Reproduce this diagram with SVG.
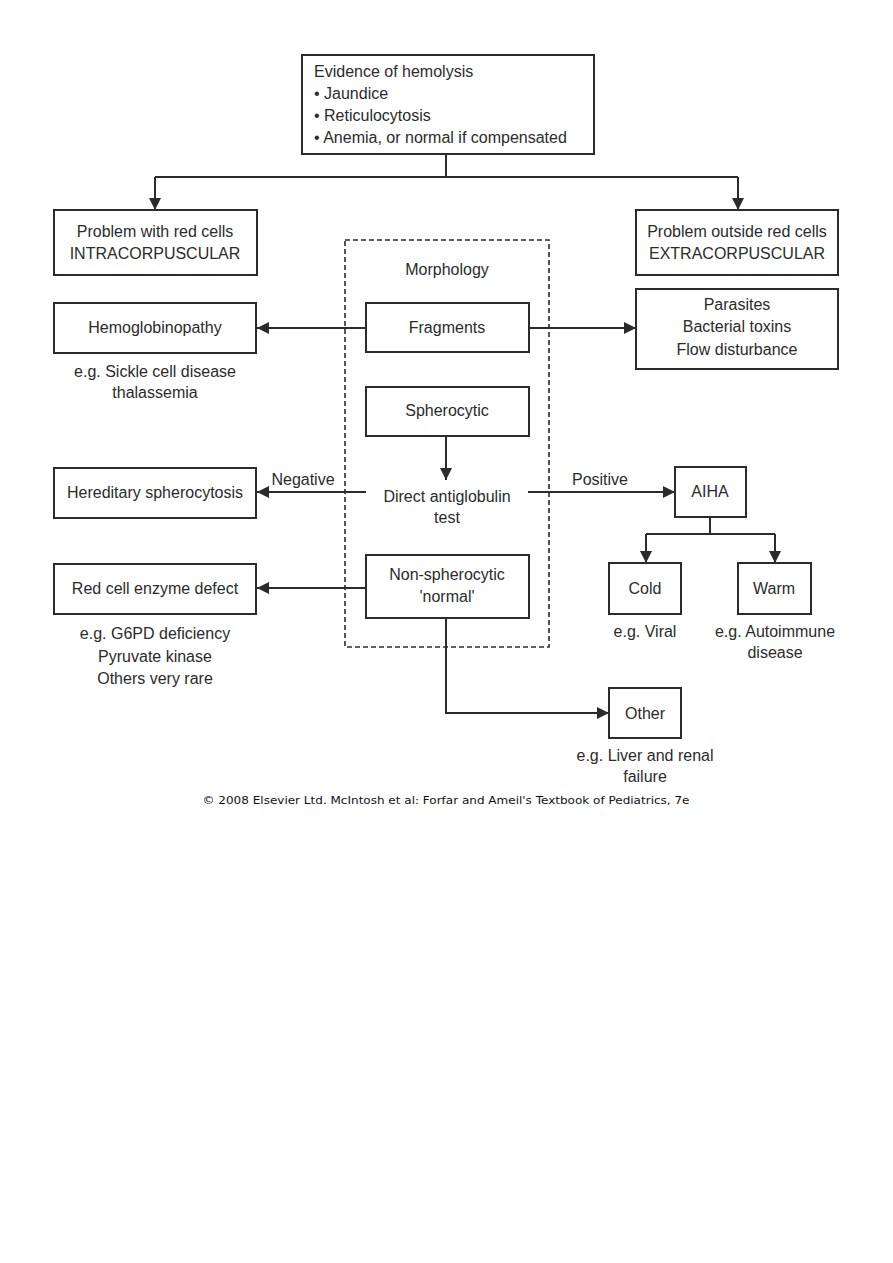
<svg xmlns="http://www.w3.org/2000/svg" width="893" height="1263" viewBox="0 0 893 1263">
<defs>
<marker id="ah" viewBox="0 0 10 10" refX="10" refY="5" markerWidth="12" markerHeight="12" markerUnits="userSpaceOnUse" orient="auto">
<path d="M0,0 L10,5 L0,10 z" fill="#2b2b2b"/>
</marker>
<style>
.box{fill:#fff;stroke:#2b2b2b;stroke-width:2}
.dash{fill:none;stroke:#2b2b2b;stroke-width:1.6;stroke-dasharray:5,3}
.ln{fill:none;stroke:#2b2b2b;stroke-width:2}
.arr{fill:none;stroke:#2b2b2b;stroke-width:2;marker-end:url(#ah)}
text{font-family:"Liberation Sans",Arial,sans-serif;font-size:16px;fill:#2b2b2b}
.c{text-anchor:middle}
.cr{font-family:"DejaVu Sans",Verdana,sans-serif;font-size:10.5px;fill:#111}
</style>
</defs>
<rect width="893" height="1263" fill="#fff"/>
<g id="connectors">
<path class="ln" d="M446,154 V177 M155,177 H738"/>
<path class="arr" d="M155,177 V210"/>
<path class="arr" d="M738,177 V210"/>
<path class="arr" d="M366,328 H257"/>
<path class="arr" d="M529,328 H636"/>
<path class="arr" d="M446,436 V480"/>
<path class="arr" d="M366,492 H257"/>
<path class="arr" d="M528,492 H675"/>
<path class="arr" d="M366,588 H257"/>
<path class="ln" d="M710,517 V534 M646,534 H775"/>
<path class="arr" d="M646,534 V563"/>
<path class="arr" d="M775,534 V563"/>
<path class="arr" d="M446,618 V713 H609"/>
<text x="303" y="485" class="c">Negative</text>
<text x="600" y="485" class="c">Positive</text>
</g>
<g id="evidence">
<rect class="box" x="302" y="55" width="292" height="99"/>
<text x="314" y="77">Evidence of hemolysis</text>
<text x="314" y="99">• Jaundice</text>
<text x="314" y="121">• Reticulocytosis</text>
<text x="314" y="143">• Anemia, or normal if compensated</text>
</g>
<g id="intra">
<rect class="box" x="54" y="210" width="203" height="65"/>
<text x="155" y="237" class="c">Problem with red cells</text>
<text x="155" y="259" class="c">INTRACORPUSCULAR</text>
</g>
<g id="extra">
<rect class="box" x="636" y="210" width="202" height="65"/>
<text x="737" y="237" class="c">Problem outside red cells</text>
<text x="737" y="259" class="c">EXTRACORPUSCULAR</text>
</g>
<g id="morphology">
<rect class="dash" x="345" y="240" width="204" height="407"/>
<text x="447" y="275" class="c">Morphology</text>
</g>
<g id="fragments">
<rect class="box" x="366" y="303" width="163" height="49"/>
<text x="447" y="333" class="c">Fragments</text>
</g>
<g id="spherocytic">
<rect class="box" x="366" y="387" width="163" height="49"/>
<text x="447" y="416" class="c">Spherocytic</text>
</g>
<g id="dat">
<text x="447" y="502" class="c">Direct antiglobulin</text>
<text x="447" y="523" class="c">test</text>
</g>
<g id="nonspherocytic">
<rect class="box" x="366" y="555" width="163" height="63"/>
<text x="447" y="580" class="c">Non-spherocytic</text>
<text x="447" y="602" class="c">'normal'</text>
</g>
<g id="hemoglobinopathy">
<rect class="box" x="54" y="303" width="202" height="50"/>
<text x="155" y="333" class="c">Hemoglobinopathy</text>
<text x="155" y="377" class="c">e.g. Sickle cell disease</text>
<text x="155" y="398" class="c">thalassemia</text>
</g>
<g id="parasites">
<rect class="box" x="636" y="289" width="202" height="80"/>
<text x="737" y="310" class="c">Parasites</text>
<text x="737" y="332" class="c">Bacterial toxins</text>
<text x="737" y="355" class="c">Flow disturbance</text>
</g>
<g id="hereditary">
<rect class="box" x="54" y="468" width="202" height="50"/>
<text x="155" y="498" class="c">Hereditary spherocytosis</text>
</g>
<g id="enzyme">
<rect class="box" x="54" y="564" width="202" height="50"/>
<text x="155" y="594" class="c">Red cell enzyme defect</text>
<text x="155" y="639" class="c">e.g. G6PD deficiency</text>
<text x="155" y="662" class="c">Pyruvate kinase</text>
<text x="155" y="684" class="c">Others very rare</text>
</g>
<g id="aiha">
<rect class="box" x="675" y="467" width="71" height="50"/>
<text x="710" y="497" class="c">AIHA</text>
</g>
<g id="cold">
<rect class="box" x="609" y="563" width="72" height="51"/>
<text x="645" y="594" class="c">Cold</text>
<text x="645" y="637" class="c">e.g. Viral</text>
</g>
<g id="warm">
<rect class="box" x="738" y="563" width="73" height="51"/>
<text x="774" y="594" class="c">Warm</text>
<text x="775" y="637" class="c">e.g. Autoimmune</text>
<text x="775" y="658" class="c">disease</text>
</g>
<g id="other">
<rect class="box" x="609" y="688" width="72" height="50"/>
<text x="645" y="719" class="c">Other</text>
<text x="645" y="761" class="c">e.g. Liver and renal</text>
<text x="645" y="782" class="c">failure</text>
</g>
<text x="446" y="804" class="c cr" textLength="487" lengthAdjust="spacingAndGlyphs">© 2008 Elsevier Ltd. McIntosh et al: Forfar and Ameil's Textbook of Pediatrics, 7e</text>
</svg>
